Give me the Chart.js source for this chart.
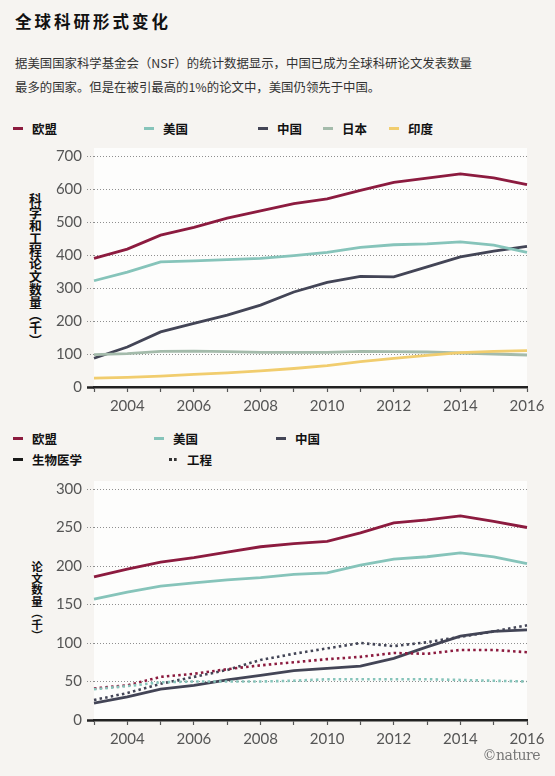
<!DOCTYPE html>
<html>
<head>
<meta charset="utf-8">
<script src="https://cdn.jsdelivr.net/npm/chart.js@4"></script>
<style>
  body { margin: 0; background: #f6f4f1; font-family: "Noto Sans CJK SC", "Noto Sans", sans-serif; }
  #page { position: relative; width: 555px; height: 776px; overflow: hidden; }
  .abs { position: absolute; }
  #title { left: 15px; top: 9px; font-size: 16.5px; font-weight: 700; letter-spacing: 3px; color: #111; }
  .sub { left: 15px; font-size: 12.4px; color: #333; white-space: nowrap; }
  .leg { font-size: 12.5px; font-weight: 700; color: #111; display: flex; align-items: center; white-space: nowrap; }
  .leg i { display: inline-block; width: 10px; height: 3px; margin-right: 9px; }
  .leg i.dots { background: none !important; width: 8px; border-top: 3px dotted #333; height: 0; margin-right: 10px; }
  .ytitle { writing-mode: vertical-rl; font-weight: 700; color: #111; }
  canvas { position: absolute; left: 0; }
  #credit { right: 15px; top: 747px; font-family: "DejaVu Serif", "Liberation Serif", serif; font-size: 14px; color: #777; letter-spacing: -0.5px; }
</style>
</head>
<body>
<div id="page">
  <div id="title" class="abs">全球科研形式变化</div>
  <div class="abs sub" style="top:54px">据美国国家科学基金会（NSF）的统计数据显示，中国已成为全球科研论文发表数量</div>
  <div class="abs sub" style="top:78px">最多的国家。但是在被引最高的1%的论文中，美国仍领先于中国。</div>

  <div id="legendTop"></div>
  <div id="legendBottom"></div>

  <div class="abs ytitle" style="left:26px; top:193px; font-size:12.8px;">科学和工程论文数量（千）</div>
  <div class="abs ytitle" style="left:29px; top:561px; font-size:11.5px;">论文数量（千）</div>

  <canvas id="topChart" width="555" height="280" style="top:140px"></canvas>
  <canvas id="bottomChart" width="555" height="283" style="top:470px"></canvas>

  <div id="credit" class="abs">©nature</div>
</div>
<script>
const years = ['2003', '2004', '2005', '2006', '2007', '2008', '2009', '2010', '2011', '2012', '2013', '2014', '2015', '2016'];
const shownYears = ['2004', '2006', '2008', '2010', '2012', '2014', '2016'];

// total science & engineering papers (thousands)
const euTotal = [390, 418, 460, 484, 512, 534, 556, 570, 596, 620, 633, 646, 634, 613];
const usTotal = [322, 348, 379, 382, 386, 390, 398, 408, 423, 431, 434, 440, 430, 408];
const cnTotal = [87, 121, 167, 193, 218, 248, 288, 317, 335, 334, 364, 394, 412, 426];
const jpTotal = [98, 101, 108, 109, 107, 105, 105, 105, 108, 107, 106, 103, 100, 97];
const inTotal = [27, 29, 33, 38, 43, 49, 56, 65, 77, 87, 96, 104, 108, 110];

// biomedical (solid) and engineering (dotted), thousands
const euBio = [186, 196, 205, 211, 218, 225, 229, 232, 243, 256, 260, 265, 258, 250];
const usBio = [157, 166, 174, 178, 182, 185, 189, 191, 201, 209, 212, 217, 212, 203];
const cnBio = [22, 30, 40, 45, 52, 58, 64, 67, 70, 80, 95, 109, 115, 117];
const euEng = [41, 45, 56, 60, 66, 71, 75, 79, 82, 87, 86, 91, 91, 88];
const usEng = [40, 44, 49, 50, 50, 50, 51, 53, 53, 53, 53, 52, 51, 50];
const cnEng = [26, 35, 47, 56, 65, 78, 86, 93, 100, 96, 101, 108, 115, 123];

const colors = {
  eu: '#8c1b3f',
  us: '#86c4ba',
  cn: '#434556',
  jp: '#a4bbab',
  in: '#f1cd6e',
  bio: '#1a1a1a'
};

// legends (positions in px)
const topLegend = [
  { label: '欧盟', color: colors.eu, x: 13 },
  { label: '美国', color: colors.us, x: 144 },
  { label: '中国', color: colors.cn, x: 258 },
  { label: '日本', color: colors.jp, x: 323 },
  { label: '印度', color: colors.in, x: 389 }
];
const bottomLegend = [
  { label: '欧盟', color: colors.eu, x: 13, y: 429 },
  { label: '美国', color: colors.us, x: 154, y: 429 },
  { label: '中国', color: colors.cn, x: 276, y: 429 },
  { label: '生物医学', color: colors.bio, x: 13, y: 450 },
  { label: '工程', color: null, x: 169, y: 450 }
];

function buildLegend(id, items, defaultY) {
  const el = document.getElementById(id);
  items.forEach(it => {
    const d = document.createElement('div');
    d.className = 'abs leg';
    d.style.left = it.x + 'px';
    d.style.top = (it.y || defaultY) + 'px';
    const m = document.createElement('i');
    if (it.color) {
      m.style.background = it.color;
    } else {
      m.className = 'dots';
    }
    d.appendChild(m);
    d.appendChild(document.createTextNode(it.label));
    el.appendChild(d);
  });
}
buildLegend('legendTop', topLegend, 119);
buildLegend('legendBottom', bottomLegend, 0);

const plotBg = {
  id: 'plotBg',
  beforeDraw(chart) {
    const { ctx, chartArea: a } = chart;
    ctx.save();
    ctx.fillStyle = '#fdfdfc';
    ctx.fillRect(a.left, a.top - 8, a.right - a.left, a.bottom - a.top + 8);
    ctx.restore();
  }
};

function solid(data, color) {
  return { data, borderColor: color, borderWidth: 2.8, pointRadius: 0, tension: 0, fill: false };
}
function dotted(data, color) {
  return { data, borderColor: color, borderWidth: 2.6, borderDash: [2.5, 3.2], pointRadius: 0, tension: 0, fill: false };
}

function makeChart(id, datasets, yMax, yStep, padTop) {
  return new Chart(document.getElementById(id), {
    type: 'line',
    data: { labels: years, datasets },
    plugins: [plotBg],
    options: {
      responsive: false,
      animation: false,
      layout: { padding: { top: padTop, right: 28, left: 0, bottom: 0 } },
      plugins: { legend: { display: false }, tooltip: { enabled: false } },
      scales: {
        x: {
          offset: false,
          afterFit: s => { s.height = 33; },
          border: { display: true, color: '#222', width: 2.5 },
          grid: { drawOnChartArea: false, drawTicks: true, tickLength: 5, tickColor: '#555', tickWidth: 1.2 },
          ticks: {
            autoSkip: false,
            maxRotation: 0,
            padding: 5,
            color: '#555',
            font: { family: 'Lato', size: 15 },
            callback: function (v) {
              const lbl = this.getLabelForValue(v);
              return shownYears.includes(lbl) ? lbl : '';
            }
          }
        },
        y: {
          min: 0,
          max: yMax,
          afterFit: s => { s.width = 94; },
          border: { display: false, dash: [1, 2] },
          grid: {
            color: c => (c.tick && c.tick.value === 0) ? 'rgba(0,0,0,0)' : '#8f8f8f',
            lineWidth: 1,
            tickLength: 7,
            tickColor: c => (c.tick && c.tick.value === 0) ? '#222' : '#8f8f8f',
            tickWidth: c => (c.tick && c.tick.value === 0) ? 2.5 : 1,
            tickBorderDash: c => (c.tick && c.tick.value === 0) ? [] : [1, 2]
          },
          ticks: {
            stepSize: yStep,
            padding: 5,
            color: '#555',
            font: { family: 'Lato', size: 15 }
          }
        }
      }
    }
  });
}

makeChart('topChart', [
  solid(inTotal, colors.in),
  solid(jpTotal, colors.jp),
  solid(usTotal, colors.us),
  solid(cnTotal, colors.cn),
  solid(euTotal, colors.eu)
], 700, 100, 16);

makeChart('bottomChart', [
  dotted(usEng, colors.us),
  dotted(euEng, colors.eu),
  dotted(cnEng, colors.cn),
  solid(usBio, colors.us),
  solid(cnBio, colors.cn),
  solid(euBio, colors.eu)
], 300, 50, 19);
</script>
</body>
</html>
